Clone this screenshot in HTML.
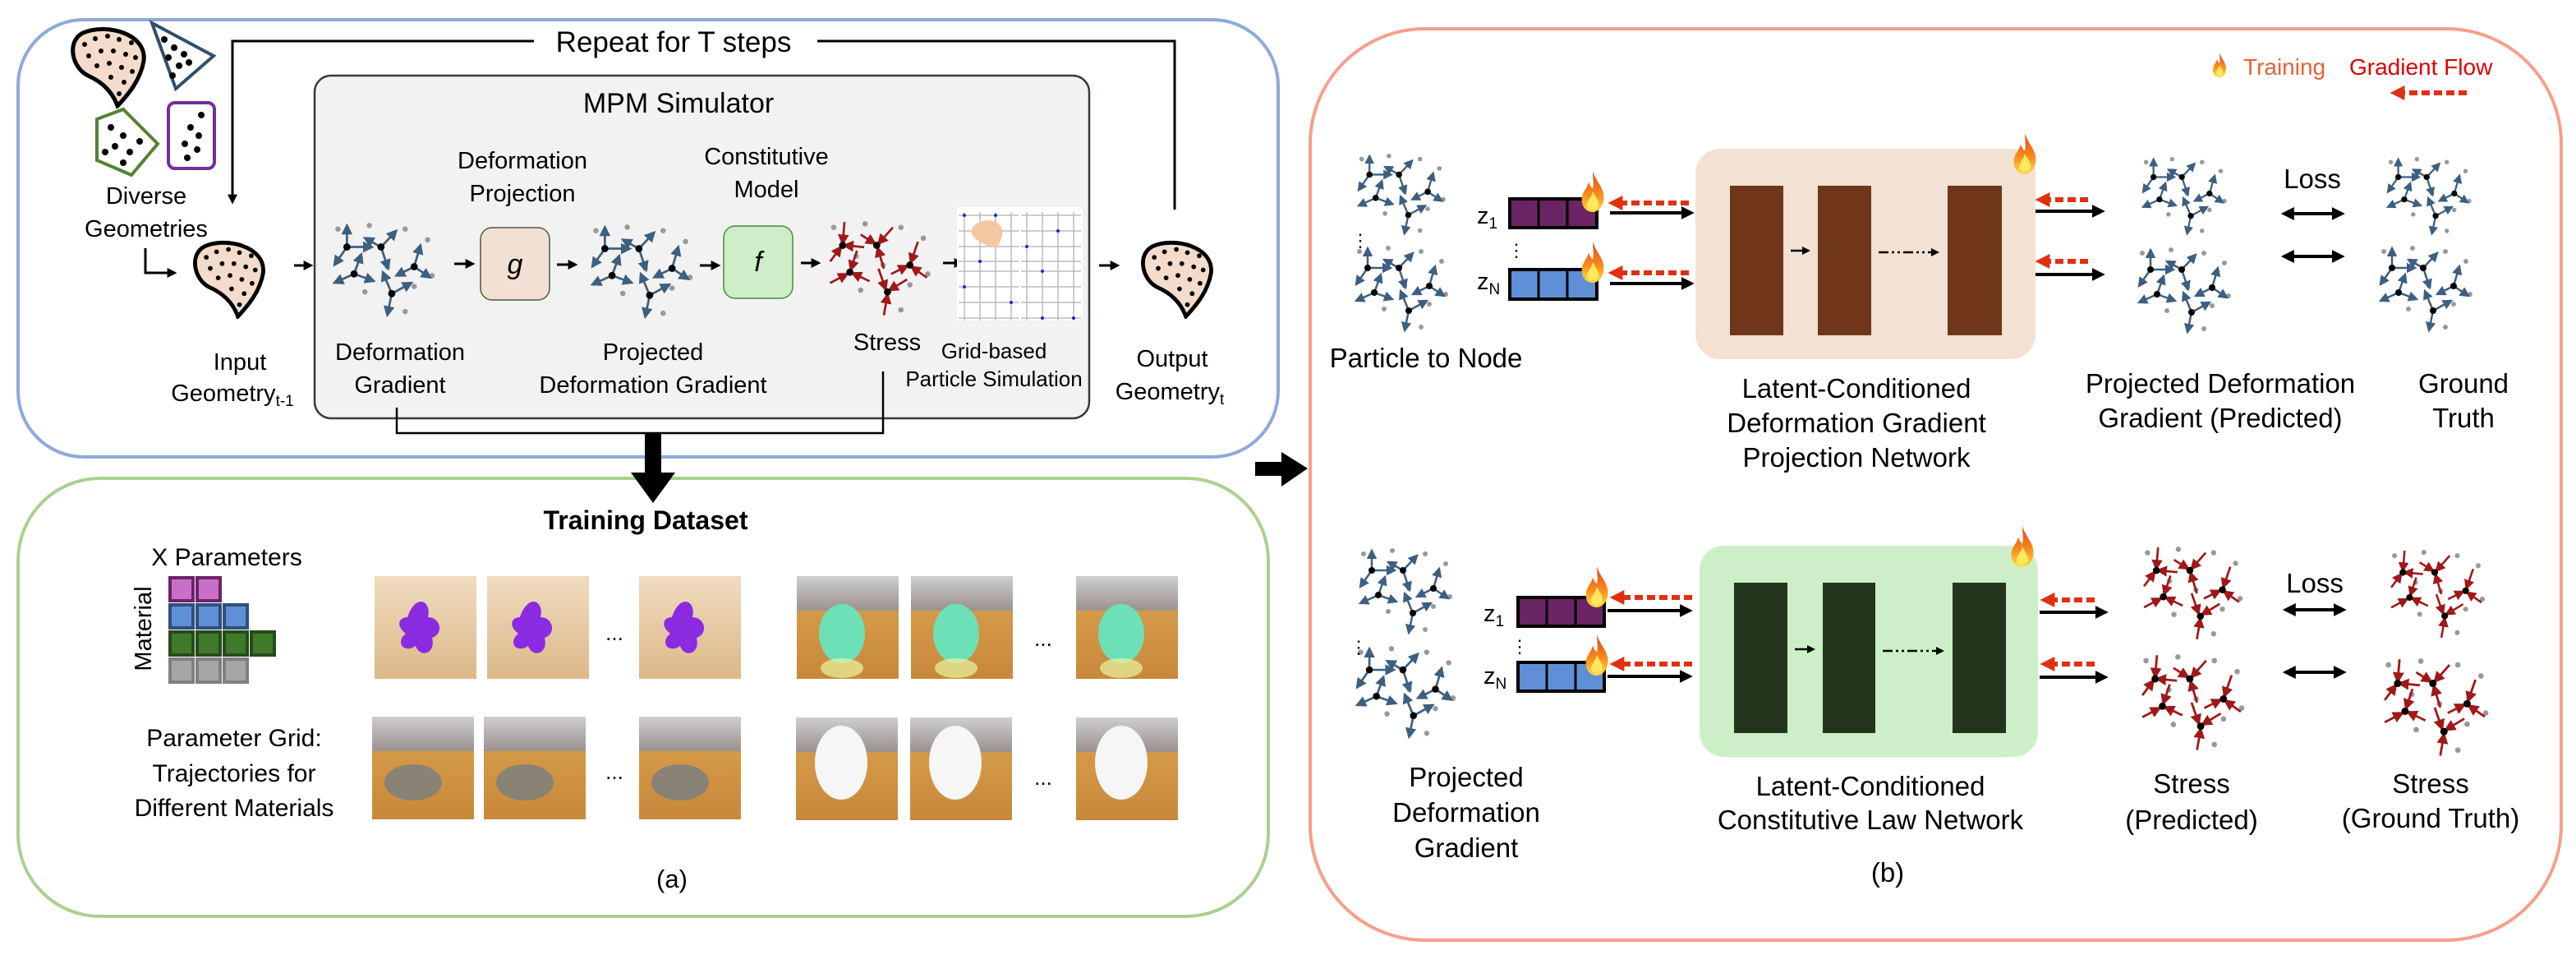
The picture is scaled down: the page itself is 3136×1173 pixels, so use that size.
<!DOCTYPE html>
<html><head><meta charset="utf-8"><style>
html,body{margin:0;padding:0;background:#fff}
svg{display:block}
text{font-family:"Liberation Sans",sans-serif;fill:#000}
</style></head><body>
<svg width="3136" height="1173" viewBox="0 0 3136 1173" xmlns="http://www.w3.org/2000/svg">
<defs>
<marker id="ab" viewBox="0 0 10 10" refX="8" refY="5" markerWidth="5" markerHeight="5" orient="auto"><path d="M0,0L10,5L0,10z" fill="#3d5f80"/></marker>
<marker id="ar" viewBox="0 0 10 10" refX="8" refY="5" markerWidth="5" markerHeight="5" orient="auto"><path d="M0,0L10,5L0,10z" fill="#a01818"/></marker>
<marker id="ak" viewBox="0 0 10 10" refX="7" refY="5" markerWidth="4" markerHeight="4" orient="auto"><path d="M0,0L10,5L0,10z" fill="#000"/></marker>
<marker id="akr" viewBox="0 0 10 10" refX="3" refY="5" markerWidth="4" markerHeight="4" orient="auto-start-reverse"><path d="M0,0L10,5L0,10z" fill="#000"/></marker>
<marker id="ared" viewBox="0 0 10 10" refX="3" refY="5" markerWidth="3" markerHeight="3" orient="auto-start-reverse"><path d="M0,0L10,5L0,10z" fill="#e03010"/></marker>
<linearGradient id="fl" x1="0" y1="0" x2="0" y2="1"><stop offset="0" stop-color="#e84010"/><stop offset="0.6" stop-color="#f89020"/><stop offset="1" stop-color="#ffe040"/></linearGradient>
<symbol id="flame" viewBox="0 0 40 60"><path d="M20,0 C24,15 38,25 36,42 C34,55 26,60 20,60 C12,60 4,54 4,42 C4,30 12,26 14,16 C16,22 18,24 20,26 C22,18 20,8 20,0Z" fill="url(#fl)"/><path d="M20,30 C24,38 30,44 28,52 C26,58 14,58 12,52 C10,44 18,40 20,30Z" fill="#ffe860"/></symbol>
<symbol id="gb" viewBox="0 0 120 110">
<g fill="#999"><circle cx="10" cy="8" r="3"/><circle cx="45" cy="4" r="3"/><circle cx="85" cy="8" r="3"/><circle cx="110" cy="20" r="3"/><circle cx="35" cy="40" r="3"/><circle cx="65" cy="50" r="3"/><circle cx="40" cy="78" r="3"/><circle cx="95" cy="72" r="3"/><circle cx="85" cy="100" r="3"/><circle cx="115" cy="60" r="3"/></g>
<g stroke="#3d5f80" stroke-width="2.5" marker-end="url(#ab)">
<line x1="20" y1="28" x2="20" y2="4"/><line x1="20" y1="28" x2="48" y2="28"/><line x1="20" y1="28" x2="6" y2="48"/>
<line x1="58" y1="28" x2="40" y2="18"/><line x1="58" y1="28" x2="75" y2="10"/><line x1="58" y1="28" x2="66" y2="52"/>
<line x1="95" y1="50" x2="102" y2="26"/><line x1="95" y1="50" x2="113" y2="62"/><line x1="95" y1="50" x2="75" y2="60"/>
<line x1="28" y1="58" x2="36" y2="36"/><line x1="28" y1="58" x2="50" y2="66"/><line x1="28" y1="58" x2="6" y2="68"/>
<line x1="70" y1="80" x2="60" y2="56"/><line x1="70" y1="80" x2="92" y2="68"/><line x1="70" y1="80" x2="65" y2="104"/>
</g>
<g fill="#000"><circle cx="20" cy="28" r="4"/><circle cx="58" cy="28" r="4"/><circle cx="95" cy="50" r="4"/><circle cx="28" cy="58" r="4"/><circle cx="70" cy="80" r="4"/></g>
</symbol>
<symbol id="gr" viewBox="0 0 120 110">
<g fill="#999"><circle cx="10" cy="8" r="3"/><circle cx="45" cy="4" r="3"/><circle cx="85" cy="8" r="3"/><circle cx="110" cy="20" r="3"/><circle cx="35" cy="40" r="3"/><circle cx="65" cy="50" r="3"/><circle cx="40" cy="78" r="3"/><circle cx="95" cy="72" r="3"/><circle cx="85" cy="100" r="3"/><circle cx="115" cy="60" r="3"/></g>
<g stroke="#a01818" stroke-width="2.5" marker-end="url(#ar)">
<line x1="22" y1="2" x2="20" y2="26"/><line x1="44" y1="30" x2="22" y2="28"/><line x1="6" y1="46" x2="18" y2="30"/>
<line x1="40" y1="16" x2="56" y2="26"/><line x1="76" y1="8" x2="60" y2="26"/><line x1="66" y1="54" x2="59" y2="31"/>
<line x1="104" y1="24" x2="96" y2="47"/><line x1="114" y1="64" x2="97" y2="52"/><line x1="74" y1="60" x2="92" y2="51"/>
<line x1="36" y1="34" x2="29" y2="55"/><line x1="50" y1="68" x2="31" y2="59"/><line x1="6" y1="70" x2="25" y2="60"/>
<line x1="60" y1="54" x2="68" y2="77"/><line x1="92" y1="66" x2="72" y2="78"/><line x1="66" y1="106" x2="70" y2="83"/>
</g>
<g fill="#000"><circle cx="20" cy="28" r="4"/><circle cx="58" cy="28" r="4"/><circle cx="95" cy="50" r="4"/><circle cx="28" cy="58" r="4"/><circle cx="70" cy="80" r="4"/></g>
</symbol>
<symbol id="blob" viewBox="0 0 100 100"><path d="M18,8 C45,-4 96,8 92,42 C88,65 74,82 60,97 C54,80 42,68 24,60 C4,50 -2,18 18,8Z" fill="#f3dccb" stroke="#000" stroke-width="5"/>
<g fill="#000"><circle cx="20" cy="22" r="3"/><circle cx="33" cy="15" r="3"/><circle cx="48" cy="12" r="3"/><circle cx="62" cy="16" r="3"/><circle cx="77" cy="20" r="3"/><circle cx="25" cy="36" r="3"/><circle cx="40" cy="30" r="3"/><circle cx="55" cy="30" r="3"/><circle cx="70" cy="34" r="3"/><circle cx="82" cy="38" r="3"/><circle cx="35" cy="48" r="3"/><circle cx="50" cy="45" r="3"/><circle cx="65" cy="50" r="3"/><circle cx="78" cy="55" r="3"/><circle cx="52" cy="62" r="3"/><circle cx="68" cy="68" r="3"/><circle cx="62" cy="82" r="3"/></g></symbol>
<linearGradient id="wood" x1="0" y1="0" x2="0" y2="1"><stop offset="0" stop-color="#f0dcc0"/><stop offset="1" stop-color="#dcb888"/></linearGradient>
<linearGradient id="room" x1="0" y1="0" x2="0" y2="1"><stop offset="0" stop-color="#cfcfcf"/><stop offset="0.33" stop-color="#9a9290"/><stop offset="0.34" stop-color="#d49a48"/><stop offset="1" stop-color="#c8883a"/></linearGradient>
<symbol id="img1" viewBox="0 0 124 125"><rect width="124" height="125" fill="url(#wood)"/><path d="M40,50 C50,20 70,30 65,50 C80,50 85,70 70,75 C75,95 55,100 50,85 C35,95 25,80 38,70 C25,60 30,50 40,50Z" fill="#8a2be2"/></symbol>
<symbol id="img2" viewBox="0 0 124 125"><rect width="124" height="125" fill="url(#room)"/><ellipse cx="55" cy="70" rx="28" ry="36" fill="#6ee0b8"/><ellipse cx="55" cy="112" rx="26" ry="12" fill="#e8f5a0" opacity="0.7"/></symbol>
<symbol id="img3" viewBox="0 0 124 125"><rect width="124" height="125" fill="url(#room)"/><ellipse cx="50" cy="80" rx="35" ry="22" fill="#6a7c8a" opacity="0.7"/></symbol>
<symbol id="img4" viewBox="0 0 124 125"><rect width="124" height="125" fill="url(#room)"/><ellipse cx="55" cy="55" rx="32" ry="45" fill="#f6f6f6"/></symbol>
</defs>

<rect x="22" y="24" width="1534" height="532" rx="80" fill="#fff" stroke="#8eaadb" stroke-width="4"/>
<rect x="22" y="582" width="1522" height="533" rx="100" fill="#fff" stroke="#a9d18e" stroke-width="4"/>
<rect x="1595" y="35" width="1523" height="1109" rx="140" fill="#fff" stroke="#f4a08a" stroke-width="4"/>
<rect x="383" y="92" width="943" height="417" rx="20" fill="#f2f2f2" stroke="#333a44" stroke-width="2.5"/>

<path d="M650,50 H283 V245" fill="none" stroke="#000" stroke-width="3" marker-end="url(#ak)"/>
<path d="M995,50 H1430 V255" fill="none" stroke="#000" stroke-width="3"/>
<text x="820" y="63" font-size="35" text-anchor="middle">Repeat for T steps</text>
<text x="826" y="137" font-size="34" text-anchor="middle">MPM Simulator</text>

<use href="#blob" x="78" y="32" width="110" height="100"/>
<path d="M185,28 L260,68 L214,108Z" fill="#fff" stroke="#2f4f6a" stroke-width="4"/>
<g fill="#000"><circle cx="200" cy="48" r="4"/><circle cx="212" cy="58" r="4"/><circle cx="224" cy="66" r="4"/><circle cx="205" cy="70" r="4"/><circle cx="218" cy="80" r="4"/><circle cx="210" cy="92" r="4"/><circle cx="230" cy="76" r="4"/></g>
<path d="M118,145 L150,133 L192,175 L160,213 L118,195Z" fill="#fff" stroke="#548235" stroke-width="4"/>
<g fill="#000"><circle cx="135" cy="155" r="4"/><circle cx="150" cy="165" r="4"/><circle cx="140" cy="178" r="4"/><circle cx="158" cy="185" r="4"/><circle cx="170" cy="172" r="4"/><circle cx="150" cy="198" r="4"/><circle cx="128" cy="185" r="4"/></g>
<rect x="205" y="125" width="56" height="80" rx="8" fill="#fff" stroke="#7030a0" stroke-width="4"/>
<g fill="#000"><circle cx="245" cy="140" r="4"/><circle cx="232" cy="155" r="4"/><circle cx="242" cy="165" r="4"/><circle cx="225" cy="175" r="4"/><circle cx="240" cy="182" r="4"/><circle cx="228" cy="192" r="4"/></g>
<text x="178" y="248" font-size="29" text-anchor="middle">Diverse</text>
<text x="178" y="288" font-size="29" text-anchor="middle">Geometries</text>
<path d="M177,302 V332 H212" fill="none" stroke="#000" stroke-width="3" marker-end="url(#ak)"/>
<use href="#blob" x="226" y="292" width="108" height="96"/>
<use href="#blob" x="1378" y="292" width="112" height="96"/>

<g stroke="#000" stroke-width="3" marker-end="url(#ak)">
<line x1="358" y1="323" x2="378" y2="323"/><line x1="553" y1="321" x2="575" y2="321"/><line x1="678" y1="322" x2="700" y2="322"/>
<line x1="852" y1="323" x2="874" y2="323"/><line x1="975" y1="320" x2="996" y2="320"/><line x1="1148" y1="320" x2="1170" y2="320"/><line x1="1338" y1="323" x2="1360" y2="323"/>
</g>
<use href="#gb" x="400" y="270" width="132" height="120"/>
<use href="#gb" x="714" y="272" width="132" height="120"/>
<use href="#gr" x="1002" y="268" width="135" height="120"/>
<rect x="585" y="277" width="84" height="88" rx="14" fill="#f2e0d2" stroke="#4a5a3a" stroke-width="1.5"/>
<text x="627" y="333" font-size="34" text-anchor="middle" font-family="Liberation Serif" font-style="italic">g</text>
<rect x="881" y="275" width="84" height="88" rx="14" fill="#cdeec6" stroke="#4a8a3a" stroke-width="1.5"/>
<text x="923" y="330" font-size="34" text-anchor="middle" font-family="Liberation Serif" font-style="italic">f</text>
<text x="636" y="205" font-size="29" text-anchor="middle">Deformation</text>
<text x="636" y="245" font-size="29" text-anchor="middle">Projection</text>
<text x="933" y="200" font-size="29" text-anchor="middle">Constitutive</text>
<text x="933" y="240" font-size="29" text-anchor="middle">Model</text>

<g>
<rect x="1165" y="252" width="153" height="138" fill="#fff"/>
<g stroke="#bbb" stroke-width="1.5">
<line x1="1167" y1="262" x2="1240" y2="262"/><line x1="1167" y1="281" x2="1240" y2="281"/><line x1="1167" y1="300" x2="1240" y2="300"/><line x1="1167" y1="318" x2="1240" y2="318"/>
<line x1="1243" y1="262" x2="1316" y2="262"/><line x1="1243" y1="281" x2="1316" y2="281"/><line x1="1243" y1="300" x2="1316" y2="300"/><line x1="1243" y1="318" x2="1316" y2="318"/>
<line x1="1167" y1="330" x2="1240" y2="330"/><line x1="1167" y1="349" x2="1240" y2="349"/><line x1="1167" y1="368" x2="1240" y2="368"/><line x1="1167" y1="387" x2="1240" y2="387"/>
<line x1="1243" y1="330" x2="1316" y2="330"/><line x1="1243" y1="349" x2="1316" y2="349"/><line x1="1243" y1="368" x2="1316" y2="368"/><line x1="1243" y1="387" x2="1316" y2="387"/>
<line x1="1174" y1="258" x2="1174" y2="390"/><line x1="1193" y1="258" x2="1193" y2="390"/><line x1="1212" y1="258" x2="1212" y2="390"/><line x1="1231" y1="258" x2="1231" y2="390"/>
<line x1="1250" y1="258" x2="1250" y2="390"/><line x1="1269" y1="258" x2="1269" y2="390"/><line x1="1288" y1="258" x2="1288" y2="390"/><line x1="1307" y1="258" x2="1307" y2="390"/>
</g>
<path d="M1185,275 C1200,262 1222,268 1220,285 C1218,300 1210,305 1200,298 C1188,292 1178,285 1185,275Z" fill="#f3c8a0"/>
<g fill="#22c"><circle cx="1174" cy="262" r="2"/><circle cx="1212" cy="262" r="2"/><circle cx="1250" cy="300" r="2"/><circle cx="1288" cy="281" r="2"/><circle cx="1174" cy="349" r="2"/><circle cx="1231" cy="368" r="2"/><circle cx="1269" cy="330" r="2"/><circle cx="1307" cy="387" r="2"/><circle cx="1193" cy="318" r="2"/><circle cx="1269" cy="387" r="2"/></g>
</g>
<text x="1080" y="426" font-size="29" text-anchor="middle">Stress</text>
<text x="1210" y="436" font-size="26" text-anchor="middle">Grid-based</text>
<text x="1210" y="470" font-size="26" text-anchor="middle">Particle Simulation</text>
<text x="292" y="450" font-size="29" text-anchor="middle">Input</text>
<text x="283" y="488" font-size="29" text-anchor="middle">Geometry<tspan font-size="19" dy="6">t-1</tspan></text>
<text x="487" y="438" font-size="29" text-anchor="middle">Deformation</text>
<text x="487" y="478" font-size="29" text-anchor="middle">Gradient</text>
<text x="795" y="438" font-size="29" text-anchor="middle">Projected</text>
<text x="795" y="478" font-size="29" text-anchor="middle">Deformation Gradient</text>
<text x="1427" y="446" font-size="29" text-anchor="middle">Output</text>
<text x="1424" y="486" font-size="29" text-anchor="middle">Geometry<tspan font-size="19" dy="6">t</tspan></text>
<path d="M483,496 V527 H1075 V452" fill="none" stroke="#000" stroke-width="2.5"/>

<rect x="785" y="527" width="20" height="50" fill="#000"/>
<path d="M768,575 L822,575 L795,612Z" fill="#000"/>
<rect x="1528" y="562" width="36" height="17" fill="#000"/>
<path d="M1560,550 L1592,570 L1560,592Z" fill="#000"/>

<text x="786" y="644" font-size="32" font-weight="bold" text-anchor="middle">Training Dataset</text>
<text x="276" y="688" font-size="30" text-anchor="middle">X Parameters</text>
<text x="0" y="0" font-size="29" text-anchor="middle" transform="translate(184,765) rotate(-90)">Material</text>
<g stroke-width="4">
<rect x="207" y="703" width="28" height="28" fill="#c96fc9" stroke="#6b2466"/><rect x="240" y="703" width="28" height="28" fill="#c96fc9" stroke="#6b2466"/>
<rect x="207" y="736" width="28" height="28" fill="#5f8fd6" stroke="#2f4f7a"/><rect x="240" y="736" width="28" height="28" fill="#5f8fd6" stroke="#2f4f7a"/><rect x="273" y="736" width="28" height="28" fill="#5f8fd6" stroke="#2f4f7a"/>
<rect x="207" y="769" width="28" height="28" fill="#3f7a2a" stroke="#284a1a"/><rect x="240" y="769" width="28" height="28" fill="#3f7a2a" stroke="#284a1a"/><rect x="273" y="769" width="28" height="28" fill="#3f7a2a" stroke="#284a1a"/><rect x="306" y="769" width="28" height="28" fill="#3f7a2a" stroke="#284a1a"/>
<rect x="207" y="802" width="28" height="28" fill="#a6a6a6" stroke="#808080"/><rect x="240" y="802" width="28" height="28" fill="#a6a6a6" stroke="#808080"/><rect x="273" y="802" width="28" height="28" fill="#a6a6a6" stroke="#808080"/>
</g>
<use href="#img1" x="456" y="701" width="124" height="125"/>
<use href="#img1" x="593" y="701" width="124" height="125"/>
<use href="#img1" x="778" y="701" width="124" height="125"/>
<use href="#img2" x="970" y="701" width="124" height="125"/>
<use href="#img2" x="1109" y="701" width="124" height="125"/>
<use href="#img2" x="1310" y="701" width="124" height="125"/>
<use href="#img3" x="453" y="872" width="124" height="125"/>
<use href="#img3" x="589" y="872" width="124" height="125"/>
<use href="#img3" x="778" y="872" width="124" height="125"/>
<use href="#img4" x="969" y="873" width="124" height="125"/>
<use href="#img4" x="1108" y="873" width="124" height="125"/>
<use href="#img4" x="1310" y="873" width="124" height="125"/>
<text x="748" y="779" font-size="26" text-anchor="middle">...</text>
<text x="1270" y="786" font-size="26" text-anchor="middle">...</text>
<text x="748" y="948" font-size="26" text-anchor="middle">...</text>
<text x="1270" y="955" font-size="26" text-anchor="middle">...</text>
<text x="285" y="908" font-size="30" text-anchor="middle">Parameter Grid:</text>
<text x="285" y="951" font-size="30" text-anchor="middle">Trajectories for</text>
<text x="285" y="993" font-size="30" text-anchor="middle">Different Materials</text>
<text x="818" y="1080" font-size="31" text-anchor="middle">(a)</text>

<use href="#flame" x="2692" y="62" width="20" height="34"/>
<text x="2731" y="91" font-size="28" style="fill:#e8603c">Training</text>
<text x="2860" y="91" font-size="28" style="fill:#e00000">Gradient Flow</text>
<line x1="3003" y1="113" x2="2922" y2="113" stroke="#e03010" stroke-width="6" stroke-dasharray="10 5" marker-end="url(#ared)"/>

<rect x="2064" y="181" width="414" height="256" rx="30" fill="#f3e1d3"/>
<rect x="2106" y="226" width="65" height="182" fill="#6f3619"/>
<rect x="2213" y="226" width="65" height="182" fill="#6f3619"/>
<rect x="2371" y="226" width="66" height="182" fill="#6f3619"/>
<line x1="2180" y1="305" x2="2201" y2="305" stroke="#000" stroke-width="2.5" marker-end="url(#ak)"/>
<line x1="2287" y1="307" x2="2358" y2="307" stroke="#000" stroke-width="2.5" stroke-dasharray="12 4 3 4 3 4" marker-end="url(#ak)"/>
<use href="#gb" x="1645" y="186" width="120" height="104"/>
<use href="#gb" x="1645" y="298" width="120" height="110"/>
<text x="1656" y="300" font-size="22" text-anchor="middle">⋮</text>
<rect x="1838" y="242" width="106" height="35" fill="#6b2466" stroke="#000" stroke-width="4"/>
<line x1="1873" y1="242" x2="1873" y2="277" stroke="#000" stroke-width="3"/><line x1="1908" y1="242" x2="1908" y2="277" stroke="#000" stroke-width="3"/>
<rect x="1838" y="328" width="106" height="36" fill="#5f8fd6" stroke="#000" stroke-width="4"/>
<line x1="1873" y1="328" x2="1873" y2="364" stroke="#000" stroke-width="3"/><line x1="1908" y1="328" x2="1908" y2="364" stroke="#000" stroke-width="3"/>
<text x="1798" y="272" font-size="29">z<tspan font-size="19" dy="6">1</tspan></text>
<text x="1798" y="352" font-size="29">z<tspan font-size="19" dy="6">N</tspan></text>
<text x="1846" y="312" font-size="22" text-anchor="middle">⋮</text>
<use href="#flame" x="1922" y="208" width="34" height="50"/>
<use href="#flame" x="1922" y="294" width="34" height="50"/>
<use href="#flame" x="2448" y="162" width="34" height="50"/>
<g stroke="#e03010" stroke-width="6" stroke-dasharray="10 5" marker-end="url(#ared)">
<line x1="2056" y1="247" x2="1970" y2="247"/><line x1="2056" y1="332" x2="1970" y2="332"/>
<line x1="2542" y1="243" x2="2490" y2="243"/><line x1="2542" y1="318" x2="2490" y2="318"/>
</g>
<g stroke="#000" stroke-width="4" marker-end="url(#ak)">
<line x1="1960" y1="259" x2="2058" y2="259"/><line x1="1960" y1="345" x2="2058" y2="345"/>
<line x1="2478" y1="257" x2="2558" y2="257"/><line x1="2478" y1="334" x2="2558" y2="334"/>
</g>
<g stroke="#000" stroke-width="4" marker-end="url(#ak)" marker-start="url(#akr)">
<line x1="2788" y1="260" x2="2850" y2="260"/><line x1="2788" y1="312" x2="2850" y2="312"/>
</g>
<text x="2815" y="229" font-size="33" text-anchor="middle">Loss</text>
<use href="#gb" x="2598" y="190" width="120" height="100"/>
<use href="#gb" x="2598" y="300" width="120" height="110"/>
<use href="#gb" x="2894" y="190" width="124" height="100"/>
<use href="#gb" x="2890" y="298" width="124" height="110"/>
<text x="1736" y="447" font-size="33" text-anchor="middle">Particle to Node</text>
<text x="2260" y="484" font-size="33" text-anchor="middle">Latent-Conditioned</text>
<text x="2260" y="526" font-size="33" text-anchor="middle">Deformation Gradient</text>
<text x="2260" y="568" font-size="33" text-anchor="middle">Projection Network</text>
<text x="2703" y="478" font-size="33" text-anchor="middle">Projected Deformation</text>
<text x="2703" y="520" font-size="33" text-anchor="middle">Gradient (Predicted)</text>
<text x="2999" y="478" font-size="33" text-anchor="middle">Ground</text>
<text x="2999" y="520" font-size="33" text-anchor="middle">Truth</text>

<rect x="2069" y="664" width="412" height="257" rx="30" fill="#cdefc8"/>
<rect x="2111" y="709" width="65" height="183" fill="#23361d"/>
<rect x="2219" y="709" width="64" height="183" fill="#23361d"/>
<rect x="2377" y="709" width="65" height="183" fill="#23361d"/>
<line x1="2185" y1="790" x2="2207" y2="790" stroke="#000" stroke-width="2.5" marker-end="url(#ak)"/>
<line x1="2292" y1="792" x2="2364" y2="792" stroke="#000" stroke-width="2.5" stroke-dasharray="12 4 3 4 3 4" marker-end="url(#ak)"/>
<use href="#gb" x="1645" y="666" width="130" height="110"/>
<use href="#gb" x="1645" y="785" width="130" height="118"/>
<text x="1654" y="795" font-size="22" text-anchor="middle">⋮</text>
<rect x="1848" y="727" width="105" height="35" fill="#6b2466" stroke="#000" stroke-width="4"/>
<line x1="1883" y1="727" x2="1883" y2="762" stroke="#000" stroke-width="3"/><line x1="1918" y1="727" x2="1918" y2="762" stroke="#000" stroke-width="3"/>
<rect x="1848" y="806" width="105" height="35" fill="#5f8fd6" stroke="#000" stroke-width="4"/>
<line x1="1883" y1="806" x2="1883" y2="841" stroke="#000" stroke-width="3"/><line x1="1918" y1="806" x2="1918" y2="841" stroke="#000" stroke-width="3"/>
<text x="1806" y="756" font-size="29">z<tspan font-size="19" dy="6">1</tspan></text>
<text x="1806" y="832" font-size="29">z<tspan font-size="19" dy="6">N</tspan></text>
<text x="1850" y="794" font-size="22" text-anchor="middle">⋮</text>
<use href="#flame" x="1927" y="689" width="34" height="50"/>
<use href="#flame" x="1927" y="772" width="34" height="50"/>
<use href="#flame" x="2445" y="640" width="34" height="50"/>
<g stroke="#e03010" stroke-width="6" stroke-dasharray="10 5" marker-end="url(#ared)">
<line x1="2060" y1="727" x2="1972" y2="727"/><line x1="2060" y1="808" x2="1972" y2="808"/>
<line x1="2550" y1="730" x2="2496" y2="730"/><line x1="2550" y1="808" x2="2496" y2="808"/>
</g>
<g stroke="#000" stroke-width="4" marker-end="url(#ak)">
<line x1="1957" y1="743" x2="2056" y2="743"/><line x1="1957" y1="823" x2="2056" y2="823"/>
<line x1="2483" y1="745" x2="2562" y2="745"/><line x1="2483" y1="824" x2="2562" y2="824"/>
</g>
<g stroke="#000" stroke-width="4" marker-end="url(#ak)" marker-start="url(#akr)">
<line x1="2790" y1="742" x2="2852" y2="742"/><line x1="2790" y1="818" x2="2852" y2="818"/>
</g>
<text x="2818" y="721" font-size="33" text-anchor="middle">Loss</text>
<use href="#gr" x="2600" y="664" width="136" height="118"/>
<use href="#gr" x="2600" y="795" width="136" height="122"/>
<use href="#gr" x="2894" y="668" width="144" height="112"/>
<use href="#gr" x="2890" y="800" width="148" height="124"/>
<text x="1785" y="957" font-size="33" text-anchor="middle">Projected</text>
<text x="1785" y="1000" font-size="33" text-anchor="middle">Deformation</text>
<text x="1785" y="1043" font-size="33" text-anchor="middle">Gradient</text>
<text x="2277" y="968" font-size="33" text-anchor="middle">Latent-Conditioned</text>
<text x="2277" y="1009" font-size="33" text-anchor="middle">Constitutive Law Network</text>
<text x="2668" y="965" font-size="33" text-anchor="middle">Stress</text>
<text x="2668" y="1009" font-size="33" text-anchor="middle">(Predicted)</text>
<text x="2959" y="965" font-size="33" text-anchor="middle">Stress</text>
<text x="2959" y="1007" font-size="33" text-anchor="middle">(Ground Truth)</text>
<text x="2298" y="1073" font-size="33" text-anchor="middle">(b)</text>
</svg>
</body></html>
